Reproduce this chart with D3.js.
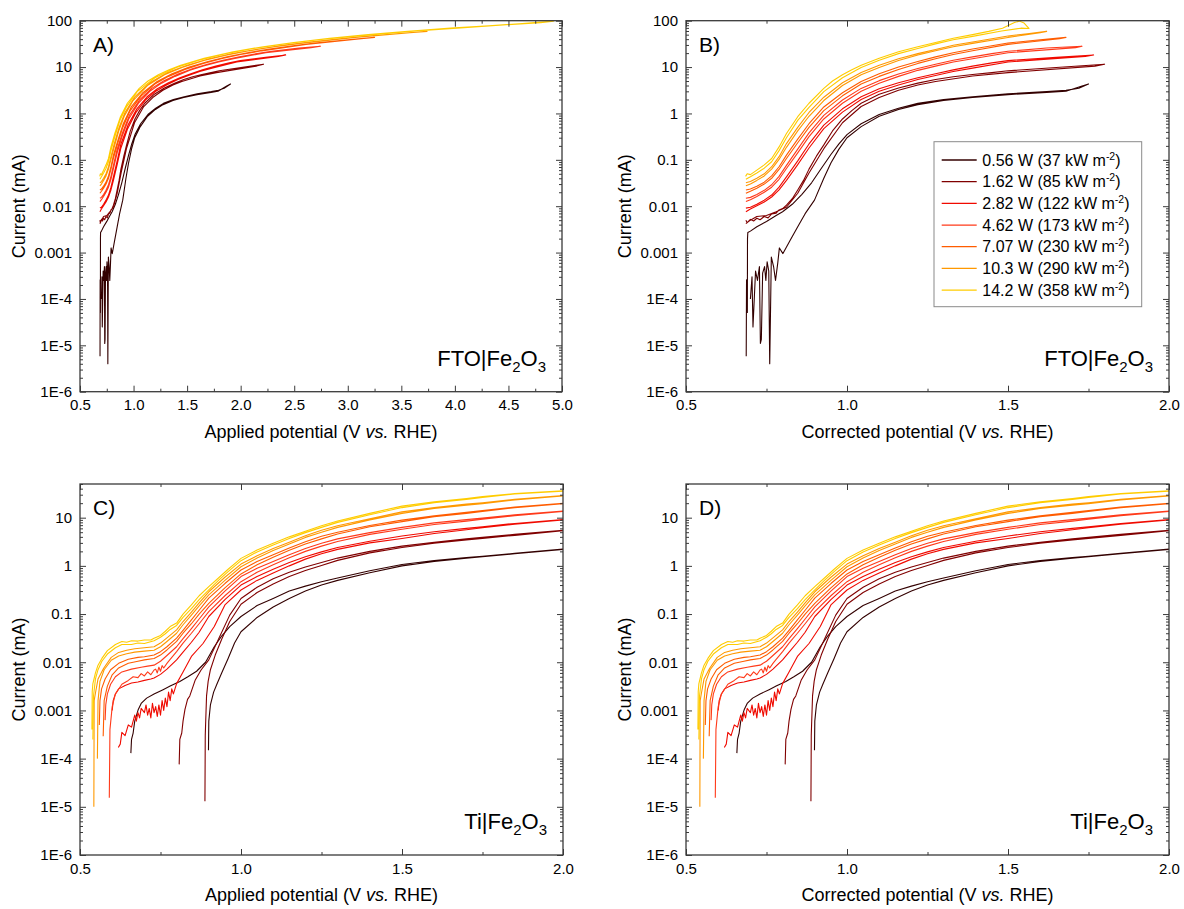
<!DOCTYPE html>
<html><head><meta charset="utf-8">
<script src="https://cdn.jsdelivr.net/npm/d3@7"></script>
<style>
body{margin:0;background:#fff}
svg{display:block}
text{font-family:"Liberation Sans",Arial,sans-serif;fill:#000}
</style>
</head><body>
<svg id="chart" width="1184" height="909"></svg>
<script>
// ---------- categories / legend ----------
const powers = ["0.56 W", "1.62 W", "2.82 W", "4.62 W", "7.07 W", "10.3 W", "14.2 W"];
const densities = ["37", "85", "122", "173", "230", "290", "358"];
const colors = ["#330000", "#800000", "#f00a00", "#ff3a1a", "#ff5c00", "#ff9900", "#ffcc00"];

// ---------- tick labels ----------
const yTicksFTO = [1e-6, 1e-5, 1e-4, 1e-3, 0.01, 0.1, 1, 10, 100];
const yLabelsFTO = ["1E-6", "1E-5", "1E-4", "0.001", "0.01", "0.1", "1", "10", "100"];
const yTicksTi = [1e-6, 1e-5, 1e-4, 1e-3, 0.01, 0.1, 1, 10];
const yLabelsTi = ["1E-6", "1E-5", "1E-4", "0.001", "0.01", "0.1", "1", "10"];
const xTicksWide = [0.5, 1.0, 1.5, 2.0, 2.5, 3.0, 3.5, 4.0, 4.5, 5.0];
const xLabelsWide = ["0.5", "1.0", "1.5", "2.0", "2.5", "3.0", "3.5", "4.0", "4.5", "5.0"];
const xMinorWide = [0.75, 1.25, 1.75, 2.25, 2.75, 3.25, 3.75, 4.25, 4.75];
const xTicksNarrow = [0.5, 1.0, 1.5, 2.0];
const xLabelsNarrow = ["0.5", "1.0", "1.5", "2.0"];
const xMinorNarrow = [0.75, 1.25, 1.75];

// ---------- Panel A: FTO|Fe2O3, applied potential [V, mA] (forward then return sweep) ----------
const ftoApplied056 = [[0.687,5.8e-6],[0.688,2.6e-4],[0.689,1.1e-4],[0.690,2.5e-4],[0.6905,5.1e-5],[0.691,2e-3],[0.692,2.7e-3],[0.70,2.9e-3],[0.72,3.6e-3],[0.75,4.7e-3],[0.78,6.3e-3],[0.80,7.6e-3],[0.83,0.011],[0.86,0.018],[0.89,0.032],[0.922,0.065],[0.955,0.13],[0.983,0.22],[1.013,0.35],[1.066,0.6],[1.134,0.95],[1.207,1.3],[1.279,1.65],[1.372,2.0],[1.473,2.3],[1.595,2.65],[1.726,2.95],[1.793,3.15],[1.846,3.5],[1.905,4.3],
 [1.87,3.9],[1.788,3.0],[1.723,2.85],[1.592,2.55],[1.469,2.2],[1.368,1.9],[1.276,1.55],[1.204,1.22],[1.131,0.87],[1.063,0.52],[1.011,0.3],[0.981,0.17],[0.953,0.085],[0.929,0.04],[0.899,0.0135],[0.87,6.9e-3],[0.847,3.6e-3],[0.824,1.86e-3],[0.801,9.5e-4],[0.79,1.26e-3],[0.785,6e-4],[0.778,2.5e-4],[0.772,5e-4],[0.765,8e-4],[0.76,4e-6],[0.757,4e-4],[0.752,6.3e-4],[0.748,2.5e-4],[0.744,5e-4],[0.738,3.6e-4],[0.734,1.35e-5],[0.731,1.1e-5],[0.728,5e-4],[0.722,2.5e-4],[0.716,4e-4],[0.708,2.5e-5],[0.705,3e-4],[0.70,1e-4]];
const ftoApplied162 = [[0.686,0.005],[0.69,0.0044],[0.70,0.0052],[0.71,0.0048],[0.72,0.0055],[0.73,0.0051],[0.743,0.006],[0.755,0.0056],[0.766,0.0068],[0.78,0.0071],[0.789,0.0083],[0.80,0.0089],[0.812,0.0105],[0.83,0.0145],[0.847,0.0224],[0.865,0.036],[0.882,0.063],[0.909,0.12],[0.935,0.21],[0.970,0.42],[1.013,0.76],[1.056,1.15],[1.104,1.66],[1.194,2.6],[1.288,3.55],[1.382,4.5],[1.469,5.4],[1.553,6.2],[1.638,6.9],[1.724,7.6],[1.80,8.3],[2.003,9.8],[2.214,11.5],
 [2.148,10.5],[1.774,7.6],[1.62,6.4],[1.451,4.9],[1.368,4.1],[1.274,3.16],[1.179,2.2],[1.095,1.41],[1.009,0.63],[0.934,0.174],[0.884,0.052],[0.847,0.019],[0.812,0.0095],[0.78,0.0076],[0.75,0.0063],[0.72,0.006],[0.70,0.005],[0.686,0.0042]];
const ftoApplied282 = [[0.686,0.0091],[0.70,0.0095],[0.72,0.011],[0.743,0.0135],[0.766,0.0174],[0.789,0.0257],[0.812,0.043],[0.847,0.095],[0.882,0.22],[0.948,0.56],[1.031,1.26],[1.126,2.29],[1.222,3.4],[1.326,4.6],[1.432,5.9],[1.534,7.2],[1.643,8.7],[1.768,10.5],[1.893,12.3],[1.997,13.8],[2.233,16.2],[2.421,18.2],
 [2.352,17],[1.964,12.9],[1.732,9.5],[1.618,8.0],[1.513,6.6],[1.414,5.4],[1.308,4.1],[1.208,3.0],[1.116,2.0],[1.025,1.07],[0.945,0.47],[0.882,0.18],[0.847,0.079],[0.812,0.036],[0.789,0.0224],[0.766,0.0158],[0.743,0.0123],[0.72,0.0102],[0.70,0.0087],[0.686,0.0076]];
const ftoApplied462 = [[0.686,0.0148],[0.70,0.0155],[0.72,0.0178],[0.743,0.022],[0.766,0.029],[0.789,0.044],[0.812,0.076],[0.847,0.17],[0.896,0.38],[0.961,0.91],[1.056,1.95],[1.169,3.47],[1.284,5.1],[1.416,7.1],[1.555,9.3],[1.689,11.5],[1.834,14.0],[1.988,16.6],[2.152,19.5],[2.288,21.9],[2.545,25.7],[2.745,28.2],
 [2.657,26.3],[2.234,20.4],[1.934,15.1],[1.794,12.9],[1.653,10.5],[1.526,8.5],[1.387,6.3],[1.262,4.5],[1.152,3.0],[1.046,1.66],[0.955,0.76],[0.893,0.316],[0.847,0.141],[0.812,0.065],[0.789,0.038],[0.766,0.0257],[0.743,0.02],[0.72,0.0162],[0.70,0.0138],[0.686,0.0126]];
const ftoApplied707 = [[0.686,0.0224],[0.70,0.0234],[0.72,0.027],[0.743,0.033],[0.766,0.045],[0.789,0.071],[0.812,0.126],[0.857,0.28],[0.904,0.6],[0.978,1.38],[1.087,2.8],[1.22,4.9],[1.359,7.2],[1.52,10],[1.695,13.2],[1.873,16.6],[2.064,20.4],[2.27,24.5],[2.487,28.8],[2.69,33],[3.0,38.9],[3.25,43.6],
 [3.125,40.7],[2.61,30.9],[2.196,22.4],[2.0,18.6],[1.819,15.1],[1.652,12.0],[1.48,8.9],[1.327,6.3],[1.199,4.3],[1.072,2.4],[0.969,1.15],[0.90,0.5],[0.855,0.234],[0.812,0.107],[0.789,0.062],[0.766,0.04],[0.743,0.030],[0.72,0.0245],[0.70,0.021],[0.686,0.019]];
const ftoApplied103 = [[0.686,0.032],[0.70,0.034],[0.72,0.04],[0.743,0.05],[0.766,0.071],[0.789,0.117],[0.82,0.224],[0.865,0.5],[0.92,1.05],[1.009,2.24],[1.152,4.6],[1.318,7.6],[1.50,11],[1.704,15.1],[1.92,19.5],[2.139,24],[2.39,29.5],[2.64,34.7],[2.92,40.7],[3.185,46.8],[3.45,52.5],[3.74,58.9],
 [3.58,55],[3.07,43.6],[2.56,32.4],[2.32,27.5],[2.08,22.4],[1.875,18.2],[1.657,13.8],[1.453,9.8],[1.289,6.8],[1.13,4.0],[0.996,1.9],[0.913,0.87],[0.862,0.42],[0.819,0.186],[0.789,0.102],[0.766,0.063],[0.743,0.045],[0.72,0.036],[0.70,0.030],[0.686,0.0275]];
const ftoApplied142 = [[0.685,0.044],[0.69,0.05],[0.70,0.048],[0.72,0.06],[0.743,0.078],[0.766,0.107],[0.789,0.19],[0.825,0.37],[0.878,0.85],[0.942,1.66],[1.053,3.47],[1.135,5.0],[1.231,6.8],[1.332,8.8],[1.44,11],[1.658,15.5],[1.93,21.4],[2.21,27.5],[2.495,33.9],[2.83,41.7],[3.19,50],[3.56,58.9],[3.96,69],[4.80,91],[4.92,98],
 [4.6,86],[4.02,69],[3.64,60],[3.05,46],[2.73,38.9],[2.41,31.6],[2.12,25.1],[1.86,19.5],[1.61,14.1],[1.40,9.8],[1.20,5.9],[1.034,2.95],[0.931,1.35],[0.873,0.71],[0.823,0.30],[0.789,0.158],[0.766,0.091],[0.743,0.066],[0.72,0.052],[0.70,0.043],[0.686,0.038]];

// ---------- Panel B: FTO|Fe2O3, corrected potential [V, mA] ----------
const ftoCorrected056 = [[0.687,5.8e-6],[0.688,2.6e-4],[0.689,1.1e-4],[0.690,2.5e-4],[0.6905,5.1e-5],[0.691,2e-3],[0.692,2.7e-3],[0.70,2.9e-3],[0.72,3.6e-3],[0.75,4.7e-3],[0.78,6.3e-3],[0.80,7.6e-3],[0.83,0.011],[0.86,0.018],[0.89,0.032],[0.92,0.065],[0.95,0.13],[0.975,0.22],[1.0,0.35],[1.044,0.6],[1.10,0.95],[1.16,1.3],[1.22,1.65],[1.3,2.0],[1.39,2.3],[1.5,2.65],[1.62,2.95],[1.68,3.15],[1.72,3.5],[1.75,4.3],
 [1.73,3.9],[1.68,3.0],[1.62,2.85],[1.5,2.55],[1.39,2.2],[1.3,1.9],[1.22,1.55],[1.16,1.22],[1.10,0.87],[1.044,0.52],[1.0,0.3],[0.975,0.17],[0.95,0.085],[0.928,0.04],[0.899,0.0135],[0.87,6.9e-3],[0.847,3.6e-3],[0.824,1.86e-3],[0.801,9.5e-4],[0.79,1.26e-3],[0.785,6e-4],[0.778,2.5e-4],[0.772,5e-4],[0.765,8e-4],[0.76,4e-6],[0.757,4e-4],[0.752,6.3e-4],[0.748,2.5e-4],[0.744,5e-4],[0.738,3.6e-4],[0.734,1.35e-5],[0.731,1.1e-5],[0.728,5e-4],[0.722,2.5e-4],[0.716,4e-4],[0.708,2.5e-5],[0.705,3e-4],[0.70,1e-4]];
const ftoCorrected162 = [[0.686,0.005],[0.69,0.0044],[0.70,0.0052],[0.71,0.0048],[0.72,0.0055],[0.73,0.0051],[0.743,0.006],[0.755,0.0056],[0.766,0.0068],[0.78,0.0071],[0.789,0.0083],[0.80,0.0089],[0.812,0.0105],[0.83,0.0145],[0.847,0.0224],[0.865,0.036],[0.882,0.063],[0.905,0.12],[0.928,0.21],[0.955,0.42],[0.986,0.76],[1.015,1.15],[1.044,1.66],[1.10,2.6],[1.16,3.55],[1.22,4.5],[1.275,5.4],[1.33,6.2],[1.39,6.9],[1.45,7.6],[1.5,8.3],[1.65,9.8],[1.80,11.5],
 [1.77,10.5],[1.5,7.6],[1.39,6.4],[1.275,4.9],[1.22,4.1],[1.16,3.16],[1.10,2.2],[1.044,1.41],[0.986,0.63],[0.928,0.174],[0.882,0.052],[0.847,0.019],[0.812,0.0095],[0.78,0.0076],[0.75,0.0063],[0.72,0.006],[0.70,0.005],[0.686,0.0042]];
const ftoCorrected282 = [[0.686,0.0091],[0.70,0.0095],[0.72,0.011],[0.743,0.0135],[0.766,0.0174],[0.789,0.0257],[0.812,0.043],[0.847,0.095],[0.882,0.22],[0.928,0.56],[0.986,1.26],[1.044,2.29],[1.10,3.4],[1.16,4.6],[1.22,5.9],[1.275,7.2],[1.33,8.7],[1.39,10.5],[1.45,12.3],[1.5,13.8],[1.65,16.2],[1.766,18.2],
 [1.74,17],[1.5,12.9],[1.39,9.5],[1.33,8.0],[1.275,6.6],[1.22,5.4],[1.16,4.1],[1.10,3.0],[1.044,2.0],[0.986,1.07],[0.928,0.47],[0.882,0.18],[0.847,0.079],[0.812,0.036],[0.789,0.0224],[0.766,0.0158],[0.743,0.0123],[0.72,0.0102],[0.70,0.0087],[0.686,0.0076]];
const ftoCorrected462 = [[0.686,0.0148],[0.70,0.0155],[0.72,0.0178],[0.743,0.022],[0.766,0.029],[0.789,0.044],[0.812,0.076],[0.847,0.17],[0.882,0.38],[0.928,0.91],[0.986,1.95],[1.044,3.47],[1.10,5.1],[1.16,7.1],[1.22,9.3],[1.275,11.5],[1.33,14.0],[1.39,16.6],[1.45,19.5],[1.5,21.9],[1.62,25.7],[1.73,28.2],
 [1.71,26.3],[1.5,20.4],[1.39,15.1],[1.33,12.9],[1.275,10.5],[1.22,8.5],[1.16,6.3],[1.10,4.5],[1.044,3.0],[0.986,1.66],[0.928,0.76],[0.882,0.316],[0.847,0.141],[0.812,0.065],[0.789,0.038],[0.766,0.0257],[0.743,0.02],[0.72,0.0162],[0.70,0.0138],[0.686,0.0126]];
const ftoCorrected707 = [[0.686,0.0224],[0.70,0.0234],[0.72,0.027],[0.743,0.033],[0.766,0.045],[0.789,0.071],[0.812,0.126],[0.847,0.28],[0.882,0.6],[0.928,1.38],[0.986,2.8],[1.044,4.9],[1.10,7.2],[1.16,10],[1.22,13.2],[1.275,16.6],[1.33,20.4],[1.39,24.5],[1.45,28.8],[1.5,33],[1.6,38.9],[1.68,43.6],
 [1.66,40.7],[1.5,30.9],[1.39,22.4],[1.33,18.6],[1.275,15.1],[1.22,12.0],[1.16,8.9],[1.10,6.3],[1.044,4.3],[0.986,2.4],[0.928,1.15],[0.882,0.5],[0.847,0.234],[0.812,0.107],[0.789,0.062],[0.766,0.04],[0.743,0.030],[0.72,0.0245],[0.70,0.021],[0.686,0.019]];
const ftoCorrected103 = [[0.686,0.032],[0.70,0.034],[0.72,0.04],[0.743,0.05],[0.766,0.071],[0.789,0.117],[0.812,0.224],[0.847,0.5],[0.882,1.05],[0.928,2.24],[0.986,4.6],[1.044,7.6],[1.10,11],[1.16,15.1],[1.22,19.5],[1.275,24],[1.33,29.5],[1.39,34.7],[1.45,40.7],[1.5,46.8],[1.56,52.5],[1.62,58.9],
 [1.60,55],[1.5,43.6],[1.39,32.4],[1.33,27.5],[1.275,22.4],[1.22,18.2],[1.16,13.8],[1.10,9.8],[1.044,6.8],[0.986,4.0],[0.928,1.9],[0.882,0.87],[0.847,0.42],[0.812,0.186],[0.789,0.102],[0.766,0.063],[0.743,0.045],[0.72,0.036],[0.70,0.030],[0.686,0.0275]];
const ftoCorrected142 = [[0.685,0.044],[0.69,0.05],[0.70,0.048],[0.72,0.06],[0.743,0.078],[0.766,0.107],[0.789,0.19],[0.812,0.37],[0.847,0.85],[0.882,1.66],[0.928,3.47],[0.955,5.0],[0.986,6.8],[1.015,8.8],[1.044,11],[1.10,15.5],[1.16,21.4],[1.22,27.5],[1.275,33.9],[1.33,41.7],[1.39,50],[1.44,58.9],[1.483,69],[1.52,91],[1.535,98],[1.55,89],[1.565,68],
 [1.54,69],[1.48,60],[1.39,46],[1.33,38.9],[1.275,31.6],[1.22,25.1],[1.16,19.5],[1.10,14.1],[1.044,9.8],[0.986,5.9],[0.928,2.95],[0.882,1.35],[0.847,0.71],[0.812,0.30],[0.789,0.158],[0.766,0.091],[0.743,0.066],[0.72,0.052],[0.70,0.043],[0.686,0.038]];

// ---------- Panels C/D: Ti|Fe2O3 [V, mA] (the iR correction is negligible, D reuses C) ----------
const tiApplied056 = [[0.658,1.3e-4],[0.660,2.5e-4],[0.665,3.4e-4],[0.67,6e-4],[0.681,1.05e-3],[0.69,1.4e-3],[0.707,1.8e-3],[0.73,2.2e-3],[0.758,2.7e-3],[0.78,3.2e-3],[0.81,4e-3],[0.835,5e-3],[0.862,6.5e-3],[0.89,0.01],[0.917,0.021],[0.94,0.035],[0.965,0.055],[1.0,0.089],[1.05,0.15],[1.1,0.21],[1.15,0.3],[1.2,0.38],[1.25,0.47],[1.3,0.56],[1.4,0.79],[1.5,1.07],[1.6,1.29],[1.7,1.48],[1.75,1.58],[1.85,1.82],[2.0,2.24],
 [2.0,2.2],[1.85,1.78],[1.75,1.55],[1.7,1.45],[1.6,1.23],[1.5,1.0],[1.4,0.72],[1.3,0.5],[1.25,0.4],[1.2,0.3],[1.15,0.21],[1.1,0.14],[1.05,0.085],[1.0,0.043],[0.98,0.025],[0.96,0.012],[0.94,6e-3],[0.925,3.5e-3],[0.915,2.4e-3],[0.905,1.3e-3],[0.90,6e-4],[0.899,1.5e-4]];
const tiApplied162 = [[0.808,7.6e-5],[0.810,2.5e-4],[0.816,3.4e-4],[0.82,6e-4],[0.826,1.05e-3],[0.834,1.7e-3],[0.841,2e-3],[0.858,4.3e-3],[0.876,6.9e-3],[0.90,0.0112],[0.93,0.03],[0.965,0.095],[1.0,0.21],[1.05,0.36],[1.1,0.54],[1.15,0.74],[1.2,0.95],[1.25,1.17],[1.3,1.45],[1.4,2.0],[1.5,2.57],[1.6,3.1],[1.7,3.63],[1.75,3.9],[1.85,4.5],[2.0,5.5],
 [2.0,5.4],[1.85,4.3],[1.75,3.7],[1.7,3.47],[1.6,2.95],[1.5,2.4],[1.4,1.86],[1.3,1.3],[1.25,1.02],[1.2,0.8],[1.15,0.6],[1.1,0.42],[1.05,0.28],[1.0,0.16],[0.965,0.07],[0.94,0.03],[0.92,0.0141],[0.905,7e-3],[0.898,4e-3],[0.893,2e-3],[0.890,5e-4],[0.889,3e-4],[0.888,1.3e-5]];
const tiApplied282 = [[0.600,1e-3],[0.603,1.6e-3],[0.61,2.2e-3],[0.62,2.8e-3],[0.64,3.3e-3],[0.66,3.7e-3],[0.68,3.9e-3],[0.70,4.2e-3],[0.72,4.5e-3],[0.73,4.7e-3],[0.75,5.6e-3],[0.77,7.2e-3],[0.80,0.0112],[0.82,0.0162],[0.846,0.026],[0.87,0.042],[0.90,0.089],[0.95,0.2],[1.0,0.4],[1.05,0.6],[1.1,0.85],[1.15,1.17],[1.2,1.55],[1.25,1.95],[1.3,2.4],[1.4,3.24],[1.5,4.17],[1.6,5.1],[1.7,6.0],[1.75,6.5],[1.85,7.6],[2.0,9.2],
 [2.0,9.0],[1.85,7.3],[1.75,6.2],[1.7,5.6],[1.6,4.7],[1.5,3.7],[1.4,3.0],[1.3,2.2],[1.25,1.78],[1.2,1.38],[1.15,1.0],[1.1,0.71],[1.05,0.5],[1.0,0.316],[0.95,0.155],[0.917,0.055],[0.882,0.0245],[0.846,0.0132],[0.82,6.3e-3],[0.80,3.6e-3],[0.79,2.2e-3],[0.785,2.8e-3],[0.78,1.6e-3],[0.775,2.4e-3],[0.77,1.2e-3],[0.765,1.8e-3],[0.76,1e-3],[0.755,1.6e-3],[0.75,8e-4],[0.745,1.3e-3],[0.74,7.5e-4],[0.735,1.2e-3],[0.73,9e-4],[0.725,1.4e-3],[0.72,7e-4],[0.715,1.1e-3],[0.71,8e-4],[0.705,1.3e-3],[0.70,9e-4],[0.69,1.1e-3],[0.685,7e-4],[0.68,9e-4],[0.675,6e-4],[0.67,8e-4],[0.66,4.5e-4],[0.65,5e-4],[0.64,3e-4],[0.63,3.5e-4],[0.625,2e-4],[0.619,1.7e-4]];
const tiApplied462 = [[0.578,6.3e-4],[0.580,1.3e-3],[0.585,2.2e-3],[0.595,3.5e-3],[0.61,5e-3],[0.63,6.3e-3],[0.66,7.2e-3],[0.69,7.9e-3],[0.71,8.3e-3],[0.73,8.7e-3],[0.75,0.0105],[0.77,0.0138],[0.80,0.021],[0.82,0.031],[0.846,0.05],[0.87,0.079],[0.90,0.141],[0.95,0.3],[1.0,0.6],[1.05,0.89],[1.1,1.23],[1.15,1.7],[1.2,2.29],[1.25,2.95],[1.3,3.63],[1.4,4.9],[1.5,6.3],[1.6,7.8],[1.7,9.1],[1.75,9.8],[1.85,11.5],[2.0,13.8],
 [2.0,13.5],[1.85,11.0],[1.75,9.3],[1.7,8.5],[1.6,7.2],[1.5,5.75],[1.4,4.5],[1.3,3.2],[1.25,2.57],[1.2,2.0],[1.15,1.48],[1.1,1.05],[1.05,0.74],[1.0,0.47],[0.95,0.24],[0.90,0.112],[0.87,0.063],[0.846,0.04],[0.82,0.025],[0.80,0.0166],[0.78,0.0115],[0.77,9.5e-3],[0.76,7.6e-3],[0.755,8.5e-3],[0.75,6.5e-3],[0.745,7.9e-3],[0.74,6e-3],[0.735,7.2e-3],[0.73,6.9e-3],[0.72,5.5e-3],[0.71,6.3e-3],[0.70,5.2e-3],[0.69,5.8e-3],[0.68,4.8e-3],[0.665,5e-3],[0.65,4.2e-3],[0.63,3.5e-3],[0.61,2.2e-3],[0.60,1.2e-3],[0.593,4e-4],[0.591,1.55e-5]];
const tiApplied707 = [[0.560,5e-4],[0.562,1.6e-3],[0.567,2.8e-3],[0.578,4.5e-3],[0.595,7e-3],[0.62,9.5e-3],[0.65,0.0115],[0.68,0.0126],[0.70,0.013],[0.73,0.0141],[0.75,0.0166],[0.77,0.021],[0.80,0.0316],[0.82,0.046],[0.846,0.076],[0.87,0.12],[0.90,0.214],[0.95,0.43],[1.0,0.82],[1.05,1.23],[1.1,1.7],[1.15,2.34],[1.2,3.16],[1.25,4.1],[1.3,5.0],[1.4,6.9],[1.5,8.9],[1.6,11.0],[1.7,12.9],[1.75,14.1],[1.85,16.6],[2.0,20],
 [2.0,19.5],[1.85,16.2],[1.75,13.5],[1.7,12.3],[1.6,10.5],[1.5,8.3],[1.4,6.5],[1.3,4.6],[1.25,3.63],[1.2,2.85],[1.15,2.1],[1.1,1.51],[1.05,1.05],[1.0,0.68],[0.95,0.35],[0.90,0.166],[0.87,0.1],[0.846,0.063],[0.82,0.04],[0.80,0.027],[0.77,0.018],[0.75,0.0141],[0.73,0.012],[0.70,0.0112],[0.68,0.0105],[0.65,0.0095],[0.62,7.6e-3],[0.60,5.5e-3],[0.585,3.2e-3],[0.575,1.6e-3],[0.572,2.9e-4]];
const tiApplied103 = [[0.543,1e-5],[0.544,1.6e-3],[0.548,2.3e-3],[0.556,4.5e-3],[0.573,7.4e-3],[0.597,0.0126],[0.62,0.016],[0.645,0.0178],[0.67,0.019],[0.70,0.02],[0.73,0.021],[0.75,0.025],[0.77,0.032],[0.80,0.047],[0.82,0.07],[0.846,0.11],[0.87,0.17],[0.90,0.29],[0.95,0.58],[1.0,1.09],[1.05,1.62],[1.1,2.29],[1.15,3.1],[1.2,4.2],[1.25,5.5],[1.3,6.8],[1.4,9.5],[1.5,13.2],[1.6,16.2],[1.7,19.1],[1.75,20.4],[1.85,24.0],[2.0,28.8],
 [2.0,28.2],[1.85,23.4],[1.75,19.5],[1.7,18.2],[1.6,15.5],[1.5,12.3],[1.4,9.0],[1.3,6.3],[1.25,5.0],[1.2,3.9],[1.15,2.85],[1.1,2.09],[1.05,1.45],[1.0,0.96],[0.95,0.5],[0.90,0.25],[0.87,0.148],[0.846,0.095],[0.82,0.06],[0.80,0.04],[0.77,0.027],[0.75,0.021],[0.73,0.0178],[0.70,0.017],[0.67,0.0162],[0.645,0.015],[0.62,0.0135],[0.597,0.011],[0.575,7e-3],[0.562,4e-3],[0.556,1.6e-3],[0.554,1e-4]];
const tiApplied142 = [[0.537,4e-4],[0.538,2.5e-3],[0.540,3.6e-3],[0.548,6e-3],[0.556,8.7e-3],[0.568,0.012],[0.585,0.0174],[0.61,0.0234],[0.63,0.027],[0.645,0.026],[0.66,0.028],[0.68,0.0275],[0.70,0.029],[0.72,0.029],[0.73,0.0316],[0.75,0.036],[0.765,0.044],[0.78,0.055],[0.80,0.065],[0.82,0.1],[0.846,0.155],[0.87,0.24],[0.90,0.37],[0.93,0.56],[0.96,0.85],[1.0,1.43],[1.05,2.14],[1.1,2.95],[1.15,4.0],[1.2,5.25],[1.25,6.8],[1.3,8.5],[1.4,12.3],[1.5,17.4],[1.6,21.4],[1.7,25.1],[1.75,27.5],[1.85,31.6],[2.0,36.3],
 [2.0,35.5],[1.85,30.9],[1.75,26.3],[1.7,24.0],[1.6,20.4],[1.5,16.2],[1.4,11.5],[1.3,8.0],[1.25,6.3],[1.2,4.9],[1.15,3.7],[1.1,2.7],[1.05,1.95],[1.0,1.28],[0.96,0.76],[0.93,0.5],[0.90,0.316],[0.87,0.2],[0.846,0.13],[0.82,0.085],[0.80,0.058],[0.78,0.048],[0.765,0.039],[0.75,0.033],[0.73,0.028],[0.70,0.0245],[0.68,0.025],[0.66,0.0234],[0.63,0.0234],[0.61,0.02],[0.585,0.0148],[0.568,0.0105],[0.556,7e-3],[0.548,4.5e-3],[0.542,2e-3],[0.540,2.5e-4]];
const tiCorrected056 = tiApplied056, tiCorrected162 = tiApplied162, tiCorrected282 = tiApplied282,
      tiCorrected462 = tiApplied462, tiCorrected707 = tiApplied707, tiCorrected103 = tiApplied103,
      tiCorrected142 = tiApplied142;

// ---------- layout ----------
const panels = [
  {letter:"A)", left:80, right:562, top:20.7, bottom:391.7, xMax:5.0, yMax:100,
   xTicks:xTicksWide, xLabels:xLabelsWide, xMinor:xMinorWide, yTicks:yTicksFTO, yLabels:yLabelsFTO,
   xTitle:"Applied", material:"FTO", legend:false,
   series:[ftoApplied056, ftoApplied162, ftoApplied282, ftoApplied462, ftoApplied707, ftoApplied103, ftoApplied142]},
  {letter:"B)", left:686, right:1169, top:20.7, bottom:391.7, xMax:2.0, yMax:100,
   xTicks:xTicksNarrow, xLabels:xLabelsNarrow, xMinor:xMinorNarrow, yTicks:yTicksFTO, yLabels:yLabelsFTO,
   xTitle:"Corrected", material:"FTO", legend:true,
   series:[ftoCorrected056, ftoCorrected162, ftoCorrected282, ftoCorrected462, ftoCorrected707, ftoCorrected103, ftoCorrected142]},
  {letter:"C)", left:80, right:563, top:484, bottom:855, xMax:2.0, yMax:50,
   xTicks:xTicksNarrow, xLabels:xLabelsNarrow, xMinor:xMinorNarrow, yTicks:yTicksTi, yLabels:yLabelsTi,
   xTitle:"Applied", material:"Ti", legend:false,
   series:[tiApplied056, tiApplied162, tiApplied282, tiApplied462, tiApplied707, tiApplied103, tiApplied142]},
  {letter:"D)", left:686, right:1169, top:484, bottom:855, xMax:2.0, yMax:50,
   xTicks:xTicksNarrow, xLabels:xLabelsNarrow, xMinor:xMinorNarrow, yTicks:yTicksTi, yLabels:yLabelsTi,
   xTitle:"Corrected", material:"Ti", legend:false,
   series:[tiCorrected056, tiCorrected162, tiCorrected282, tiCorrected462, tiCorrected707, tiCorrected103, tiCorrected142]}
];

const svg = d3.select("#chart");
const axisColor = "#3a3a3a";

panels.forEach((p, pi) => {
  const g = svg.append("g");
  const x = d3.scaleLinear().domain([0.5, p.xMax]).range([p.left, p.right]);
  const y = d3.scaleLog().domain([1e-6, p.yMax]).range([p.bottom, p.top]);

  const clipId = "clip" + pi;
  svg.append("clipPath").attr("id", clipId).append("rect")
     .attr("x", p.left).attr("y", p.top - 1).attr("width", p.right - p.left).attr("height", p.bottom - p.top + 1);

  const line = d3.line().x(d => x(d[0])).y(d => y(d[1]));
  const curves = g.append("g").attr("clip-path", `url(#${clipId})`);
  p.series.forEach((s, i) => {
    curves.append("path").attr("d", line(s)).attr("fill", "none")
      .attr("stroke", colors[i]).attr("stroke-width", 1.1).attr("stroke-linejoin", "round");
  });

  // minor log ticks
  const yMinor = [];
  for (let e = -6; e <= 2; e++) {
    for (let k = 2; k <= 9; k++) {
      const v = k * Math.pow(10, e);
      if (v < p.yMax * 1.0001) yMinor.push(v);
    }
  }

  const styleAxis = sel => { sel.attr("color", axisColor); sel.select(".domain").remove(); sel.selectAll("text").attr("font-size", 15).attr("font-family", null); };

  g.append("g").attr("transform", `translate(0,${p.bottom})`)
    .call(d3.axisBottom(x).tickValues(p.xTicks).tickFormat((d, i) => p.xLabels[i]).tickSizeInner(-6).tickSizeOuter(0).tickPadding(8)).call(styleAxis);
  g.append("g").attr("transform", `translate(0,${p.bottom})`)
    .call(d3.axisBottom(x).tickValues(p.xMinor).tickFormat("").tickSizeInner(-3).tickSizeOuter(0)).call(styleAxis);
  g.append("g").attr("transform", `translate(0,${p.top})`)
    .call(d3.axisTop(x).tickValues(p.xTicks).tickFormat("").tickSizeInner(-6).tickSizeOuter(0)).call(styleAxis);
  g.append("g").attr("transform", `translate(0,${p.top})`)
    .call(d3.axisTop(x).tickValues(p.xMinor).tickFormat("").tickSizeInner(-3).tickSizeOuter(0)).call(styleAxis);
  g.append("g").attr("transform", `translate(${p.left},0)`)
    .call(d3.axisLeft(y).tickValues(p.yTicks).tickFormat((d, i) => p.yLabels[i]).tickSizeInner(-6).tickSizeOuter(0).tickPadding(8)).call(styleAxis);
  g.append("g").attr("transform", `translate(${p.left},0)`)
    .call(d3.axisLeft(y).tickValues(yMinor).tickFormat("").tickSizeInner(-3).tickSizeOuter(0)).call(styleAxis);
  g.append("g").attr("transform", `translate(${p.right},0)`)
    .call(d3.axisRight(y).tickValues(p.yTicks).tickFormat("").tickSizeInner(-6).tickSizeOuter(0)).call(styleAxis);
  g.append("g").attr("transform", `translate(${p.right},0)`)
    .call(d3.axisRight(y).tickValues(yMinor).tickFormat("").tickSizeInner(-3).tickSizeOuter(0)).call(styleAxis);

  g.append("rect").attr("x", p.left).attr("y", p.top).attr("width", p.right - p.left).attr("height", p.bottom - p.top)
    .attr("fill", "none").attr("stroke", axisColor).attr("stroke-width", 1.3);

  // axis titles
  g.append("text").attr("transform", `translate(${p.left - 61},${(p.top + p.bottom) / 2}) rotate(-90)`)
    .attr("text-anchor", "middle").attr("dy", "0.35em").attr("font-size", 18).text("Current (mA)");
  const xt = g.append("text").attr("x", (p.left + p.right) / 2).attr("y", p.bottom + 46)
    .attr("text-anchor", "middle").attr("font-size", 18);
  xt.append("tspan").text(p.xTitle + " potential (V ");
  xt.append("tspan").attr("font-style", "italic").text("vs.");
  xt.append("tspan").text(" RHE)");

  // panel letter
  g.append("text").attr("x", p.left + 13).attr("y", p.top + 31).attr("font-size", 21).text(p.letter);

  // material label
  const mt = g.append("text").attr("x", p.right - 16).attr("y", p.bottom - 26)
    .attr("text-anchor", "end").attr("font-size", 22);
  mt.append("tspan").text(p.material + "|Fe");
  mt.append("tspan").attr("dy", 6).attr("font-size", 15).text("2");
  mt.append("tspan").attr("dy", -6).text("O");
  mt.append("tspan").attr("dy", 6).attr("font-size", 15).text("3");

  if (p.legend) {
    const lg = g.append("g");
    lg.append("rect").attr("x", 934).attr("y", 141.7).attr("width", 207.7).attr("height", 165)
      .attr("fill", "#fff").attr("stroke", "#8a8a8a").attr("stroke-width", 1);
    powers.forEach((pw, i) => {
      const ry = 160 + i * 21.68;
      lg.append("line").attr("x1", 941.7).attr("x2", 976.7).attr("y1", ry).attr("y2", ry)
        .attr("stroke", colors[i]).attr("stroke-width", 1.3);
      const t = lg.append("text").attr("x", 982.3).attr("y", ry + 5.5).attr("font-size", 16);
      t.append("tspan").text(`${pw} (${densities[i]} kW m`);
      t.append("tspan").attr("dy", -6).attr("font-size", 10.5).text("-2");
      t.append("tspan").attr("dy", 6).text(")");
    });
  }
});
</script>
</body></html>
